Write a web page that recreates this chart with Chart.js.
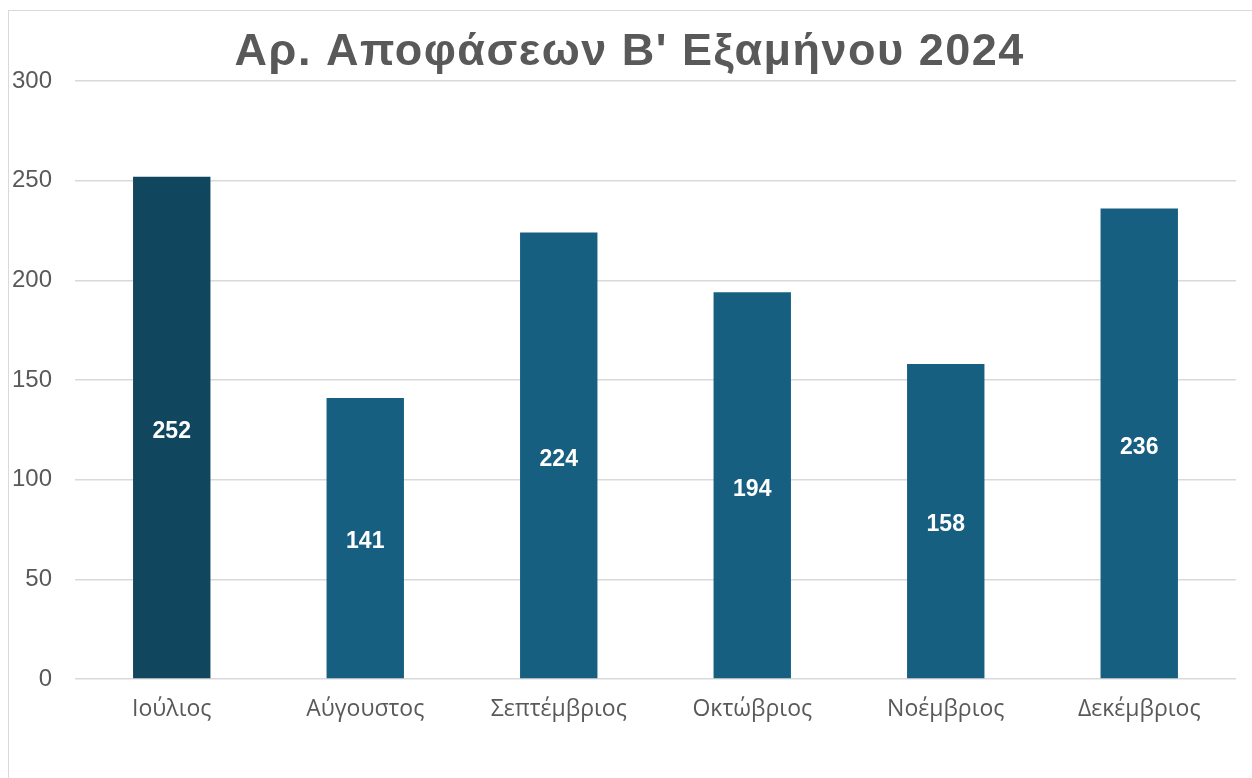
<!DOCTYPE html>
<html>
<head>
<meta charset="utf-8">
<script src="https://cdn.jsdelivr.net/npm/chart.js@4"></script>
<style>
  html, body { margin: 0; padding: 0; background: #fff; overflow: hidden; }
  #frame {
    position: absolute; left: 8px; top: 10px;
    width: 1270px; height: 800px;
    border: 1px solid #d9d9d9;
  }
  #wrap { position: absolute; left: 0; top: 0; width: 1252px; height: 778px; }
</style>
</head>
<body>
<div id="frame"></div>
<div id="wrap"><canvas id="decisionsChart"></canvas></div>
<script>
// data
const months = ['Ιούλιος', 'Αύγουστος', 'Σεπτέμβριος', 'Οκτώβριος', 'Νοέμβριος', 'Δεκέμβριος'];
const decisions = [252, 141, 224, 194, 158, 236];
const barColors = ['#10475f', '#175f80', '#175f80', '#175f80', '#175f80', '#175f80'];
const chartTitle = "Αρ. Αποφάσεων Β' Εξαμήνου 2024";

// title drawn by hand so it can get a bit of letter spacing
const wideTitle = {
  id: 'wideTitle',
  afterDraw(chart) {
    const ctx = chart.ctx;
    ctx.save();
    ctx.fillStyle = '#595959';
    ctx.font = 'bold 45px "Liberation Sans", Arial, sans-serif';
    ctx.letterSpacing = '1.5px';
    ctx.textAlign = 'left';
    ctx.textBaseline = 'alphabetic';
    const w = ctx.measureText(chartTitle).width - 1.5;
    ctx.fillText(chartTitle, 629 - w / 2, 65);
    ctx.restore();
  }
};

// white value labels in the middle of each bar
const centerLabels = {
  id: 'centerLabels',
  afterDatasetsDraw(chart) {
    const ctx = chart.ctx;
    const meta = chart.getDatasetMeta(0);
    ctx.save();
    ctx.fillStyle = '#ffffff';
    ctx.font = 'bold 23px "Liberation Sans", Arial, sans-serif';
    ctx.textAlign = 'center';
    ctx.textBaseline = 'middle';
    meta.data.forEach((bar, i) => {
      const mid = (bar.y + bar.base) / 2;
      ctx.fillText(String(decisions[i]), bar.x, mid + 4);
    });
    ctx.restore();
  }
};

new Chart(document.getElementById('decisionsChart'), {
  type: 'bar',
  data: {
    labels: months,
    datasets: [{
      data: decisions,
      backgroundColor: barColors,
      borderWidth: 0,
      barPercentage: 0.4,
      categoryPercentage: 1.0
    }]
  },
  options: {
    responsive: true,
    maintainAspectRatio: false,
    animation: false,
    layout: { padding: { left: 0, right: 16, top: 81, bottom: 0 } },
    plugins: {
      legend: { display: false },
      tooltip: { enabled: false },
      title: { display: false }
    },
    scales: {
      x: {
        grid: { display: false },
        border: { display: false },
        afterFit(scale) { scale.height = 99; },
        ticks: {
          color: '#595959',
          padding: 9,
          font: { family: '"Open Sans", sans-serif', size: 23 }
        }
      },
      y: {
        min: 0,
        max: 300,
        border: { display: false },
        grid: { color: '#d9d9d9', lineWidth: 1.5, drawTicks: false },
        afterFit(scale) { scale.width = 75; },
        ticks: {
          stepSize: 50,
          color: '#595959',
          padding: 23,
          font: { family: '"Liberation Sans", Arial, sans-serif', size: 24 }
        }
      }
    }
  },
  plugins: [centerLabels, wideTitle]
});
</script>
</body>
</html>
